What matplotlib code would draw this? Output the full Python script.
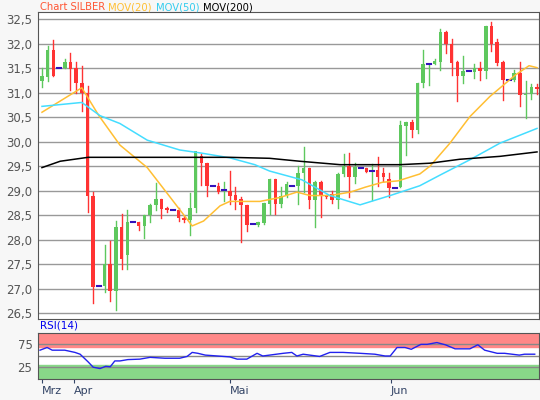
import matplotlib
matplotlib.use("Agg")
import matplotlib.pyplot as plt
import numpy as np

# OHLC candles (open, high, low, close)
opens  = [31.23,31.32,31.88,31.50,31.50,31.63,31.50,31.20,31.00,28.90,27.05,27.05,27.51,26.96,28.25,27.68,28.36,28.36,28.28,28.50,28.70,28.83,28.65,28.60,28.60,28.45,28.40,28.65,29.70,29.57,
          29.10,29.10,29.00,29.00,28.92,28.83,28.71,28.32,28.30,28.33,28.72,29.24,28.72,28.90,29.10,29.10,29.37,29.47,28.80,29.17,28.90,28.93,28.80,29.34,29.51,29.27,29.46,29.46,29.39,29.42,
          29.35,29.24,29.05,29.07,30.32,30.41,30.23,31.20,31.58,31.58,31.62,32.23,32.00,31.62,31.34,31.45,31.43,31.50,31.45,32.37,32.04,31.63,31.26,31.25,31.41,30.96,30.97,31.11]
closes = [31.35,31.88,31.35,31.50,31.63,31.48,31.20,31.00,28.89,27.04,27.05,27.51,26.96,28.25,27.60,28.36,28.36,28.28,28.50,28.70,28.83,28.62,28.60,28.60,28.45,28.40,28.65,29.80,29.57,29.10,
          29.10,28.98,29.01,28.90,28.80,28.71,28.30,28.32,28.35,28.74,29.24,28.72,28.90,29.14,29.10,29.37,29.46,28.80,29.17,28.90,28.86,28.80,29.34,29.51,29.27,29.49,29.46,29.39,29.40,29.27,
          29.27,29.05,29.05,30.34,30.41,30.23,31.20,31.58,31.58,31.64,32.23,32.00,31.60,31.34,31.45,31.45,31.50,31.45,32.37,32.00,31.60,31.25,31.26,31.41,30.96,30.98,31.11,31.07]
highs  = [31.50,31.95,32.08,31.50,31.68,31.80,31.63,31.55,31.13,28.97,27.05,27.90,27.97,28.38,28.53,28.60,28.36,28.36,28.50,28.73,29.15,28.83,28.67,28.60,28.65,28.48,28.95,29.75,29.75,29.57,
          29.10,29.15,29.18,29.41,29.08,28.87,28.71,28.32,28.36,28.74,29.24,29.24,29.08,29.17,29.10,29.50,29.90,29.47,29.20,29.19,28.91,29.00,29.37,29.75,29.76,29.56,29.46,29.47,29.54,29.68,
          29.46,29.36,29.05,30.43,30.41,30.44,31.20,31.88,31.58,31.69,32.30,32.25,32.10,31.65,31.75,31.45,31.58,31.63,32.37,32.44,32.10,31.64,31.26,31.46,31.63,31.23,31.18,31.18]
lows   = [31.12,31.23,31.35,31.50,31.50,31.05,31.00,30.63,28.56,26.70,27.05,26.93,26.75,26.57,27.41,27.40,28.36,28.20,28.04,28.36,28.60,28.45,28.56,28.60,28.38,28.37,28.10,28.56,29.11,28.90,
          29.10,28.96,28.78,28.72,28.62,27.96,28.18,28.32,28.27,28.32,28.52,28.52,28.67,28.86,29.10,28.72,28.97,28.65,28.26,28.46,28.84,28.75,28.64,29.30,28.86,29.16,29.46,29.38,28.80,29.10,
          29.20,28.86,29.05,29.07,29.72,30.10,30.18,31.12,31.15,31.58,31.47,31.80,31.37,30.82,31.19,31.45,31.30,31.26,31.29,31.85,31.57,30.85,31.26,31.23,30.72,30.48,30.88,30.98]

# moving averages: (candle index, value)
ma20_x = [0,7,10,13.7,18.5,22.5,26.4,28.4,31.3,33,38.3,41.8,44.8,47.1,50.6,54.2,56.8,59.8,62.6,66.4,68.2,71.7,75.2,78.7,83.2,85.6,87]
ma20_y = [30.6,31.1,30.53,29.93,29.47,28.87,28.28,28.38,28.69,28.78,28.78,28.86,28.97,28.9,28.9,28.97,29.07,29.17,29.2,29.34,29.5,29.97,30.51,30.92,31.36,31.55,31.51]
ma50_x = [0,7,10.2,13.7,18.5,24.2,27.8,33,37.4,40,45.7,50.6,55.9,61.2,66.4,70,75.2,80.5,87]
ma50_y = [30.72,30.8,30.53,30.37,30.03,29.83,29.77,29.67,29.53,29.4,29.22,28.9,28.71,28.9,29.1,29.32,29.63,29.97,30.27]
ma200_x = [0,3.2,8.1,33,40,45.3,52.4,62.9,68.2,73.4,80.5,87]
ma200_y = [29.47,29.6,29.68,29.68,29.66,29.6,29.53,29.53,29.56,29.64,29.7,29.79]

# RSI(14): (candle index, value)
rsi_x = [-0.35,0.9,1.8,4.0,5.8,6.7,8.1,9.0,10.2,11.2,12.0,12.8,13.7,15.1,17.2,19.0,21.6,24.2,25.5,26.4,27.4,28.7,33,34.3,36.0,37.8,38.8,42.4,43.9,44.8,45.9,48.8,50.6,52.9,55.9,58.5,60.3,61.2,62.4,63.8,64.9,66.6,67.7,69.4,70.9,72.6,75.2,76.6,77.8,80.0,81.3,83.9,84.8,86.6]
rsi_y = [62,68,62,62,57,53,36,24,21,26,25,38,38,41,42,46,44,44,48,57,55,51,47,42,42,55,49,55,57,49,53,48,57,57,55,53,49,49,68,68,64,75,75,79,74,65,65,74,62,55,55,51,53,53]

months = ["Mrz", "Apr", "Mai", "Jun"]
month_pos = [0, 5.6, 33, 61.3]
yticks = [26.5,27.0,27.5,28.0,28.5,29.0,29.5,30.0,30.5,31.0,31.5,32.0,32.5]

W, H = 540, 400
fig = plt.figure(figsize=(5.4, 4.0), dpi=100, facecolor="#f7f7f7")
def ax_px(l, t, r, b):
    return fig.add_axes([l/W, 1-b/H, (r-l)/W, (b-t)/H])

ax = ax_px(38, 12.3, 539, 319)
ax.set_facecolor("white")
n = len(opens)
idx = np.arange(n)
for i in idx:
    o, c, h, l = opens[i], closes[i], highs[i], lows[i]
    if abs(c - o) < 0.015:
        col = "#5ec85e" if c >= o else "#ff3333"
        if h - l > 0.03:
            ax.plot([i, i], [l, h], color=col, lw=1, zorder=3)
        ax.plot([i-0.35, i+0.35], [c, c], color="#3311bb", lw=1.5, zorder=4)
        continue
    col = "#5ec85e" if c > o else "#ff3333"
    ax.plot([i, i], [l, h], color=col, lw=1, zorder=3)
    ax.bar(i, abs(c-o), bottom=min(o, c), width=0.62, color=col, zorder=4, linewidth=0)
ax.plot(ma20_x, ma20_y, color="#ffbf33", lw=1.1, zorder=5)
ax.plot(ma50_x, ma50_y, color="#44ddff", lw=1.1, zorder=5)
ax.plot(ma200_x, ma200_y, color="black", lw=1.1, zorder=5)
ax.set_xlim(-0.7, 87.35)
ax.set_ylim(26.38, 32.64)
ax.set_yticks(yticks)
ax.set_yticklabels([f"{v:.1f}".replace(".", ",") for v in yticks], color="#555555", fontsize=8.5)
ax.grid(axis="y", color="#999999", lw=1)
ax.set_axisbelow(True)
ax.set_xticks([])
ax.tick_params(axis="y", length=0, pad=4)
for s in ax.spines.values():
    s.set_color("#555555")

fig.text(40/W, 1-7/H, "Chart SILBER", color="#ff5533", fontsize=7.2, va="center")
fig.text(108/W, 1-7/H, "MOV(20)", color="#ffbf33", fontsize=7.2, va="center")
fig.text(156/W, 1-7/H, "MOV(50)", color="#33ccee", fontsize=7.2, va="center")
fig.text(203/W, 1-7/H, "MOV(200)", color="black", fontsize=7.2, va="center")
fig.text(40/W, 1-326/H, "RSI(14)", color="#0000ee", fontsize=7.5, va="center")

rx = ax_px(38, 332.7, 539, 379.3)
rx.set_facecolor("white")
rx.axhspan(70, 105, color="#ff8888", zorder=0)
rx.axhspan(-5, 30, color="#88d888", zorder=0)
for v in (25, 50, 75):
    rx.axhline(v, color="#888888", lw=1, zorder=1)
rx.plot(rsi_x, rsi_y, color="#2222ee", lw=1, zorder=3)
rx.set_xlim(-0.7, 87.35)
rx.set_ylim(-3, 101)
rx.set_yticks([25, 75])
rx.set_yticklabels(["25", "75"], color="#555555", fontsize=8.5)
rx.tick_params(axis="y", length=0, pad=4)
rx.set_xticks(month_pos)
rx.set_xticklabels(months, color="#334466", fontsize=8)
for lab in rx.get_xticklabels():
    lab.set_horizontalalignment("left")
rx.tick_params(axis="x", length=3, color="#334466", pad=1.5)
for s in rx.spines.values():
    s.set_color("#555555")

fig.savefig("out.png", dpi=100, facecolor=fig.get_facecolor())
